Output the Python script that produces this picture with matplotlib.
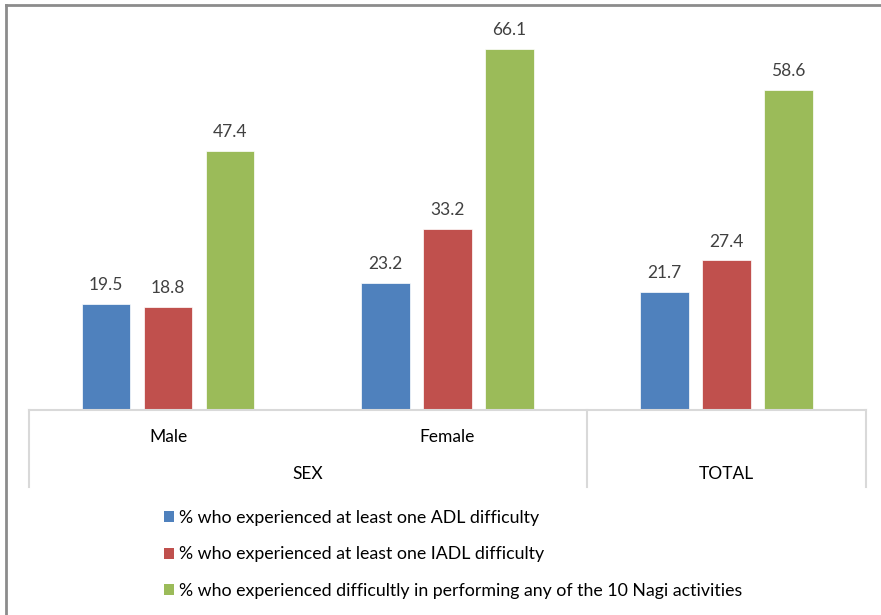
import matplotlib.pyplot as plt
from matplotlib.lines import Line2D
from matplotlib.patches import Patch

plt.rcParams['font.family'] = ['Lato', 'DejaVu Sans']

groups = ["Male", "Female", "TOTAL"]
adl = [19.5, 23.2, 21.7]
iadl = [18.8, 33.2, 27.4]
nagi = [47.4, 66.1, 58.6]
series_names = [
    "% who experienced at least one ADL difficulty",
    "% who experienced at least one IADL difficulty",
    "% who experienced difficultly in performing any of the 10 Nagi activities",
]
colors = ["#4F81BD", "#C0504D", "#9BBB59"]

W, H = 881, 615
fig = plt.figure(figsize=(W / 100, H / 100), dpi=100)
ax = fig.add_axes([28.5 / W, (H - 410) / H, (866 - 28.5) / W, (410 - 28) / H])

centers = [0.5, 1.5, 2.5]
width = 0.174
step = 0.222
for k, (vals, col) in enumerate(zip([adl, iadl, nagi], colors)):
    xs = [c + (k - 1) * step for c in centers]
    ax.bar(xs, vals, width=width, color=col, edgecolor="white", linewidth=0.5)
    for x, v in zip(xs, vals):
        ax.text(x, v + 2.0, f"{v:.1f}", ha="center", va="bottom", fontsize=12.5, color="#404040")

ax.set_xlim(0, 3)
ax.set_ylim(0, 70)
ax.set_xticks([])
ax.set_yticks([])
for s in ["top", "left", "right"]:
    ax.spines[s].set_visible(False)
ax.spines["bottom"].set_color("#D9D9D9")
ax.spines["bottom"].set_linewidth(1.5)

# category axis: separators and two label rows
trans = ax.get_xaxis_transform()
depth = -(487 - 410) / (410 - 28)
for xs in [0, 2, 3]:
    ax.add_line(Line2D([xs, xs], [0, depth], transform=trans, color="#D9D9D9",
                       lw=1.5, clip_on=False))
row1 = -(437 - 410) / (410 - 28)
row2 = -(474 - 410) / (410 - 28)
for c, g in zip(centers[:2], groups[:2]):
    ax.text(c, row1, g, transform=trans, ha="center", va="center", fontsize=12.5)
ax.text(1.0, row2, "SEX", transform=trans, ha="center", va="center", fontsize=12.5)
ax.text(2.5, row2, "TOTAL", transform=trans, ha="center", va="center", fontsize=12.5)

handles = [Patch(facecolor=c) for c in colors]
fig.legend(handles, series_names, loc="upper left", bbox_to_anchor=(148 / W, 1 - 494 / H),
           frameon=False, fontsize=12.8, handlelength=0.55, handleheight=0.55,
           handletextpad=0.3, labelspacing=1.15)

# chart border (top and left edges visible)
fig.add_artist(Line2D([6 / W, 1], [1 - 5 / H, 1 - 5 / H], transform=fig.transFigure,
                      color="#8C8C8C", lw=2))
fig.add_artist(Line2D([6 / W, 6 / W], [0, 1 - 5 / H], transform=fig.transFigure,
                      color="#8C8C8C", lw=2))

fig.savefig("out.png", dpi=100)
